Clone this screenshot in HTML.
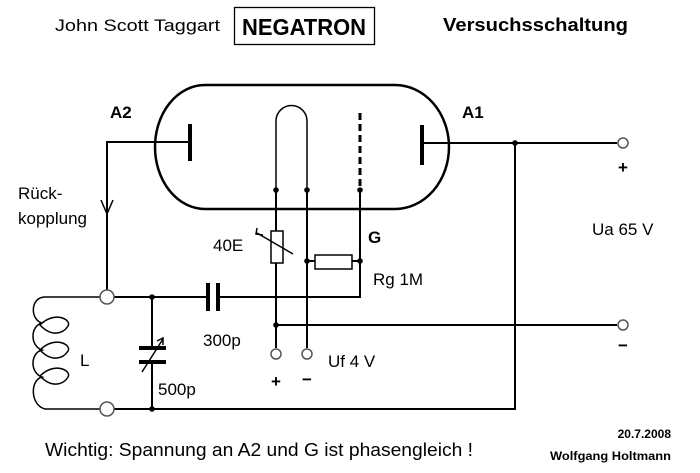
<!DOCTYPE html>
<html><head><meta charset="utf-8"><style>
html,body{margin:0;padding:0;background:#fff;}
svg{display:block;font-family:"Liberation Sans",Arial,sans-serif;}
</style></head><body>
<svg width="700" height="473" viewBox="0 0 700 473" xmlns="http://www.w3.org/2000/svg">
<rect width="700" height="473" fill="#fff"/>
<!-- header -->
<text x="55" y="31" font-size="17" textLength="165" lengthAdjust="spacingAndGlyphs">John Scott Taggart</text>
<rect x="234.5" y="7.5" width="140" height="37" fill="none" stroke="#000" stroke-width="1.3"/>
<text x="242" y="35" font-size="23" font-weight="bold" textLength="124" lengthAdjust="spacingAndGlyphs">NEGATRON</text>
<text x="443" y="31" font-size="18" font-weight="bold" textLength="185" lengthAdjust="spacingAndGlyphs">Versuchsschaltung</text>

<g fill="none" stroke="#000" stroke-width="2">
<path d="M205,85 H395 A54,62 0 0 1 395,209 H205 A50,62 0 0 1 205,85 Z" stroke-width="2.5"/>
<line x1="190" y1="124" x2="190" y2="161" stroke-width="4"/>
<line x1="422" y1="125" x2="422" y2="165" stroke-width="4"/>
<path d="M276,190 V121 A15.5,15.5 0 0 1 307,121 V190" stroke-width="1.5"/>
<line x1="360" y1="113" x2="360" y2="190" stroke-width="3" stroke-dasharray="7,4"/>
<polyline points="190,142 107,142 107,290"/>
<polyline points="101,200 107,214 113,200" stroke-width="1.5"/>
<line x1="422" y1="143" x2="617" y2="143"/>
<polyline points="515,143 515,409 114,409"/>
<line x1="276" y1="190" x2="276" y2="348"/>
<line x1="307" y1="190" x2="307" y2="348"/>
<polyline points="360,190 360,297 218,297"/>
<line x1="208" y1="297" x2="114" y2="297"/>
<line x1="208" y1="283" x2="208" y2="311" stroke-width="4"/>
<line x1="218" y1="283" x2="218" y2="311" stroke-width="4"/>
<line x1="307" y1="261" x2="360" y2="261"/>
<line x1="276" y1="325" x2="617" y2="325"/>
<line x1="152" y1="297" x2="152" y2="348"/>
<line x1="152" y1="362" x2="152" y2="409"/>
<line x1="139" y1="348" x2="166" y2="348" stroke-width="4"/>
<line x1="139" y1="362" x2="166" y2="362" stroke-width="4"/>
<line x1="142" y1="372" x2="163" y2="339" stroke-width="1.5"/>
<polyline points="157,341 163,338 163,345" stroke-width="1.5"/>
<path d="M100,297 H45 C30,297 30,320 42,323 M42,323 C30,326 30,346 42,350 C30,353 30,373 42,377 C30,380 30,405 45,409 H100" stroke-width="1.5"/>
<path d="M40,325 C55,310 72,320 68,326 C64,333 52,338 40,325 Z" stroke-width="1.5"/>
<path d="M40,350 C55,335 72,345 68,351 C64,358 52,363 40,350 Z" stroke-width="1.5"/>
<path d="M40,376 C55,361 72,371 68,377 C64,384 52,389 40,376 Z" stroke-width="1.5"/>
</g>
<rect x="271" y="231" width="12" height="32" fill="#fff" stroke="#000" stroke-width="1.5"/>
<line x1="257" y1="233" x2="293" y2="254" stroke="#000" stroke-width="1.5"/>
<polyline points="257,228 256,234 263,235" fill="none" stroke="#000" stroke-width="1.5"/>
<rect x="315" y="255" width="37" height="14" fill="#fff" stroke="#000" stroke-width="1.5"/>
<g fill="#fff" stroke="#555" stroke-width="1.5">
<circle cx="107" cy="297" r="7"/>
<circle cx="107" cy="409" r="7"/>
<circle cx="276" cy="354" r="5"/>
<circle cx="307" cy="354" r="5"/>
<circle cx="623" cy="143" r="5"/>
<circle cx="623" cy="325" r="5"/>
</g>
<g fill="#000">
<circle cx="276" cy="190" r="2.8"/><circle cx="307" cy="190" r="2.8"/><circle cx="360" cy="190" r="2.8"/>
<circle cx="307" cy="261" r="2.8"/><circle cx="360" cy="261" r="2.8"/>
<circle cx="276" cy="325" r="2.8"/><circle cx="152" cy="297" r="2.8"/><circle cx="152" cy="409" r="2.8"/>
<circle cx="515" cy="143" r="2.8"/>
</g>
<g font-size="17">
<text x="110" y="118" font-weight="bold">A2</text>
<text x="462" y="118" font-weight="bold">A1</text>
<text x="18" y="199">Rück-</text>
<text x="18" y="224">kopplung</text>
<text x="213" y="251">40E</text>
<text x="368" y="243" font-weight="bold">G</text>
<text x="373" y="285">Rg  1M</text>
<text x="203" y="346">300p</text>
<text x="158" y="395">500p</text>
<text x="80" y="366">L</text>
<text x="328" y="367">Uf  4 V</text>
<text x="592" y="235">Ua  65 V</text>
<text x="271" y="387" font-weight="bold">+</text>
<text x="302" y="385" font-weight="bold">−</text>
<text x="618" y="173" font-weight="bold">+</text>
<text x="618" y="351" font-weight="bold">−</text>
</g>
<text x="45" y="456" font-size="18" textLength="428" lengthAdjust="spacingAndGlyphs">Wichtig:  Spannung an A2 und G ist phasengleich !</text>
<text x="671" y="438" font-size="12" font-weight="bold" text-anchor="end">20.7.2008</text>
<text x="671" y="460" font-size="12" font-weight="bold" text-anchor="end" textLength="121" lengthAdjust="spacingAndGlyphs">Wolfgang Holtmann</text>
</svg>
</body></html>
